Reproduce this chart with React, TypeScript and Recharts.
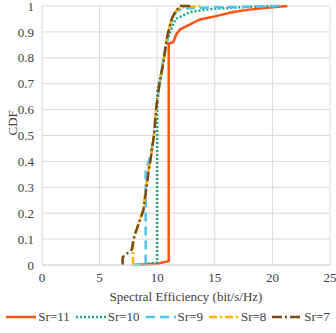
import { LineChart, Line, XAxis, YAxis, CartesianGrid } from 'recharts';

const xTicks = [0, 5, 10, 15, 20, 25];
const yTicks = [0, 0.1, 0.2, 0.3, 0.4, 0.5, 0.6, 0.7, 0.8, 0.9, 1];

const sr11X = [8, 10, 11, 11, 11.4, 11.65, 12, 12.9, 13.7, 15, 16.6, 18, 19.5, 21.3];
const sr11Y = [0, 0.005, 0.015, 0.855, 0.86, 0.89, 0.91, 0.93, 0.948, 0.96, 0.977, 0.986, 0.993, 1];

const sr10X = [8.5, 10, 10, 10.3, 10.6, 10.9, 11.3, 11.6, 12.9, 14.6, 17.2, 20];
const sr10Y = [0, 0.01, 0.67, 0.73, 0.81, 0.87, 0.92, 0.95, 0.977, 0.988, 0.995, 1];

const sr9X = [7.8, 9, 9, 9.4, 9.72, 9.9, 10.2, 10.6, 10.96, 11.3, 11.7, 12.2, 15, 21];
const sr9Y = [0, 0.005, 0.36, 0.42, 0.5, 0.6, 0.7, 0.8, 0.9, 0.95, 0.98, 0.99, 0.995, 1];

const sr8X = [7.9, 7.9, 8.1, 8.8, 9.2, 9.4, 9.72, 9.9, 10.2, 10.6, 10.75, 10.96, 11.26, 11.6, 12, 14];
const sr8Y = [0, 0.09, 0.12, 0.22, 0.36, 0.4, 0.5, 0.6, 0.7, 0.8, 0.85, 0.9, 0.95, 0.98, 0.995, 1];

const sr7X = [7, 7, 7.8, 8, 8.8, 9.25, 9.4, 9.72, 9.9, 10.2, 10.6, 10.75, 10.96, 11.26, 11.6, 12, 13];
const sr7Y = [0, 0.03, 0.06, 0.11, 0.21, 0.36, 0.4, 0.5, 0.6, 0.7, 0.8, 0.85, 0.9, 0.95, 0.98, 1, 1];

const toPoints = (xs: number[], ys: number[]) => xs.map((x, i) => ({ x, y: ys[i] }));

const series = [
  { name: 'Sr=11', data: toPoints(sr11X, sr11Y), color: '#FF5316', dash: undefined, width: 2.5 },
  { name: 'Sr=10', data: toPoints(sr10X, sr10Y), color: '#1BAA7E', dash: '2 2', width: 2.5 },
  { name: 'Sr=9', data: toPoints(sr9X, sr9Y), color: '#4FC3F7', dash: '9 5', width: 2.5 },
  { name: 'Sr=8', data: toPoints(sr8X, sr8Y), color: '#FFB300', dash: '8 3 2 3', width: 2.5 },
  { name: 'Sr=7', data: toPoints(sr7X, sr7Y), color: '#7B4A12', dash: '10 3 2 3', width: 2.5 },
];

const font = "'Liberation Serif', 'Times New Roman', Tinos, serif";
const textColor = '#404040';

export default function App() {
  return (
    <div style={{ position: 'absolute', left: 0, top: 0, width: 336, height: 333, fontFamily: font }}>
      <LineChart width={336} height={333} margin={{ top: 6, right: 6, left: 0, bottom: 28 }}>
        <CartesianGrid stroke="#d9d9d9" />
        <XAxis
          type="number"
          dataKey="x"
          domain={[0, 25]}
          ticks={xTicks}
          interval={0}
          tickLine={false}
          axisLine={{ stroke: '#d9d9d9' }}
          tick={{ fill: textColor, fontSize: 13, fontFamily: font }}
          height={40}
          label={{ value: 'Spectral Efficiency (bit/s/Hz)', position: 'insideBottom', offset: 4, fill: textColor, fontSize: 13, fontFamily: font }}
        />
        <YAxis
          type="number"
          dataKey="y"
          domain={[0, 1]}
          ticks={yTicks}
          interval={0}
          width={42}
          tickLine={false}
          axisLine={false}
          tick={{ fill: textColor, fontSize: 13, fontFamily: font }}
          label={{ value: 'CDF', angle: -90, position: 'insideLeft', offset: 12, fill: textColor, fontSize: 13, fontFamily: font }}
        />
        {series.map((s) => (
          <Line
            key={s.name}
            data={s.data}
            dataKey="y"
            name={s.name}
            type="linear"
            stroke={s.color}
            strokeWidth={s.width}
            strokeDasharray={s.dash}
            dot={false}
            isAnimationActive={false}
          />
        ))}
      </LineChart>
      <div style={{ position: 'absolute', left: 0, top: 309, width: 336, display: 'flex', justifyContent: 'center', gap: 6, fontSize: 13, color: textColor }}>
        {series.map((s) => (
          <div key={s.name} style={{ display: 'flex', alignItems: 'center' }}>
            <svg width={30} height={10}>
              <line x1={0} y1={5} x2={30} y2={5} stroke={s.color} strokeWidth={s.width} strokeDasharray={s.dash} />
            </svg>
            <span style={{ marginLeft: 2 }}>{s.name}</span>
          </div>
        ))}
      </div>
    </div>
  );
}
